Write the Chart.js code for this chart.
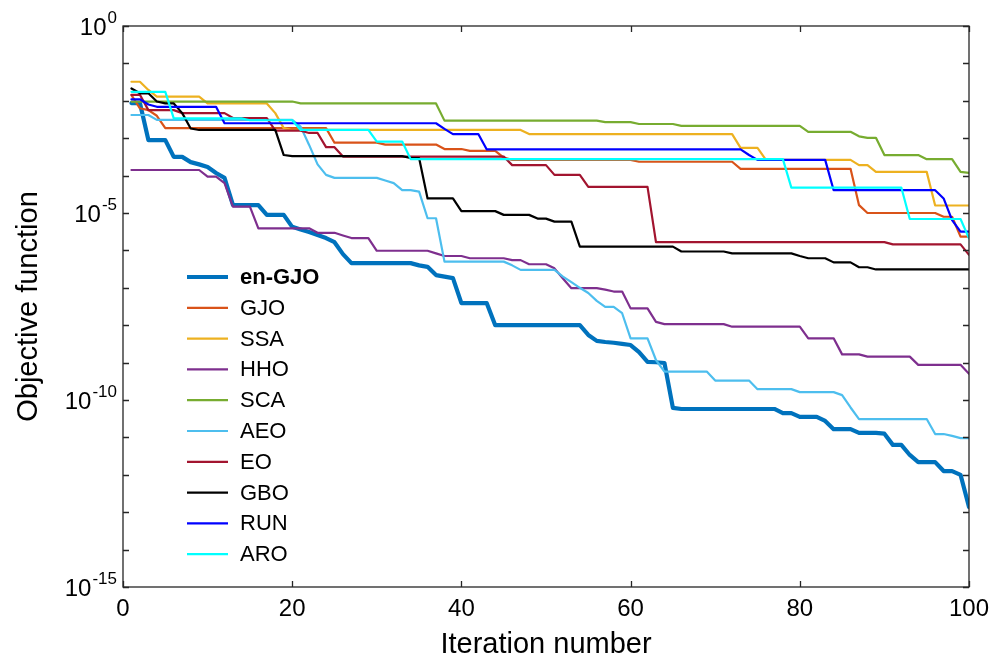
<!DOCTYPE html>
<html>
<head>
<meta charset="utf-8">
<script src="https://cdn.jsdelivr.net/npm/chart.js@4.4.1/dist/chart.umd.min.js"></script>
<style>
html,body{margin:0;padding:0;background:#fff;}
canvas{display:block;}
</style>
</head>
<body>
<canvas id="c" width="1005" height="664"></canvas>
<script>
// ---- DATA (stored as log10 of the objective value) ----
const iterations = [1,2,3,4,5,6,7,8,9,10,11,12,13,14,15,16,17,18,19,20,21,22,23,24,25,26,27,28,29,30,31,32,33,34,35,36,37,38,39,40,41,42,43,44,45,46,47,48,49,50,51,52,53,54,55,56,57,58,59,60,61,62,63,64,65,66,67,68,69,70,71,72,73,74,75,76,77,78,79,80,81,82,83,84,85,86,87,88,89,90,91,92,93,94,95,96,97,98,99,100];

const seriesNames = ['en-GJO','GJO','SSA','HHO','SCA','AEO','EO','GBO','RUN','ARO'];

const enGJO_log10 = [
-2.06,-2.06,-3.05,-3.05,-3.05,-3.50,-3.50,-3.64,-3.70,-3.77,
-3.93,-4.06,-4.79,-4.79,-4.79,-4.79,-5.05,-5.05,-5.05,-5.37,
-5.44,-5.51,-5.59,-5.67,-5.78,-6.10,-6.34,-6.34,-6.34,-6.34,
-6.34,-6.34,-6.34,-6.34,-6.40,-6.44,-6.66,-6.70,-6.74,-7.41,
-7.41,-7.41,-7.41,-8.00,-8.00,-8.00,-8.00,-8.00,-8.00,-8.00,
-8.00,-8.00,-8.00,-8.00,-8.26,-8.42,-8.45,-8.47,-8.50,-8.53,
-8.72,-8.98,-8.99,-9.01,-10.21,-10.24,-10.24,-10.24,-10.24,-10.24,
-10.24,-10.24,-10.24,-10.24,-10.24,-10.24,-10.24,-10.35,-10.35,-10.45,
-10.45,-10.45,-10.56,-10.78,-10.78,-10.78,-10.88,-10.88,-10.88,-10.90,
-11.20,-11.20,-11.47,-11.66,-11.66,-11.66,-11.90,-11.90,-12.00,-12.86];

const GJO_log10 = [
-1.85,-2.20,-2.25,-2.40,-2.73,-2.73,-2.73,-2.73,-2.73,-2.73,
-2.73,-2.73,-2.73,-2.73,-2.73,-2.73,-2.73,-2.73,-2.73,-2.73,
-2.73,-2.73,-2.73,-2.73,-3.12,-3.12,-3.12,-3.12,-3.12,-3.12,
-3.17,-3.17,-3.17,-3.17,-3.17,-3.17,-3.17,-3.29,-3.29,-3.29,
-3.34,-3.34,-3.34,-3.34,-3.52,-3.58,-3.58,-3.58,-3.58,-3.58,
-3.58,-3.58,-3.58,-3.58,-3.58,-3.58,-3.58,-3.58,-3.58,-3.58,
-3.63,-3.63,-3.63,-3.63,-3.63,-3.63,-3.63,-3.63,-3.63,-3.63,
-3.63,-3.63,-3.82,-3.82,-3.82,-3.82,-3.82,-3.82,-3.82,-3.82,
-3.82,-3.82,-3.82,-3.82,-3.82,-3.82,-4.79,-5.00,-5.00,-5.00,
-5.00,-5.00,-5.00,-5.00,-5.00,-5.00,-5.10,-5.10,-5.63,-5.63];

const SSA_log10 = [
-1.49,-1.49,-1.71,-1.89,-1.89,-1.89,-1.89,-1.89,-1.89,-2.07,
-2.07,-2.07,-2.07,-2.07,-2.07,-2.07,-2.07,-2.33,-2.73,-2.78,
-2.78,-2.78,-2.78,-2.78,-2.78,-2.78,-2.78,-2.78,-2.78,-2.78,
-2.78,-2.78,-2.78,-2.78,-2.78,-2.78,-2.78,-2.78,-2.78,-2.78,
-2.78,-2.78,-2.78,-2.78,-2.78,-2.78,-2.78,-2.89,-2.89,-2.89,
-2.89,-2.89,-2.89,-2.89,-2.89,-2.89,-2.89,-2.89,-2.89,-2.89,
-2.89,-2.89,-2.89,-2.89,-2.89,-2.89,-2.89,-2.89,-2.89,-2.89,
-2.89,-2.89,-3.26,-3.26,-3.26,-3.58,-3.58,-3.58,-3.58,-3.58,
-3.58,-3.58,-3.58,-3.58,-3.58,-3.58,-3.72,-3.72,-3.90,-3.90,
-3.90,-3.90,-3.90,-3.90,-3.90,-4.80,-4.80,-4.80,-4.80,-4.80];

const HHO_log10 = [
-3.85,-3.85,-3.85,-3.85,-3.85,-3.85,-3.85,-3.85,-3.85,-4.03,
-4.03,-4.20,-4.83,-4.83,-4.83,-5.41,-5.41,-5.41,-5.41,-5.41,
-5.41,-5.41,-5.53,-5.53,-5.53,-5.60,-5.67,-5.67,-5.67,-6.01,
-6.01,-6.01,-6.01,-6.01,-6.01,-6.01,-6.08,-6.15,-6.15,-6.15,
-6.21,-6.21,-6.21,-6.21,-6.21,-6.26,-6.26,-6.37,-6.37,-6.37,
-6.48,-6.75,-7.01,-7.01,-7.01,-7.01,-7.05,-7.10,-7.10,-7.55,
-7.55,-7.55,-7.91,-7.97,-7.97,-7.97,-7.97,-7.97,-7.97,-7.97,
-7.97,-8.04,-8.04,-8.04,-8.04,-8.04,-8.04,-8.04,-8.04,-8.04,
-8.35,-8.35,-8.35,-8.35,-8.78,-8.78,-8.78,-8.84,-8.84,-8.84,
-8.84,-8.84,-8.84,-9.06,-9.06,-9.06,-9.06,-9.06,-9.06,-9.30];

const SCA_log10 = [
-2.02,-2.02,-2.02,-2.02,-2.02,-2.02,-2.02,-2.02,-2.02,-2.02,
-2.02,-2.02,-2.02,-2.02,-2.02,-2.02,-2.02,-2.02,-2.02,-2.02,
-2.07,-2.07,-2.07,-2.07,-2.07,-2.07,-2.07,-2.07,-2.07,-2.07,
-2.07,-2.07,-2.07,-2.07,-2.07,-2.07,-2.07,-2.53,-2.53,-2.53,
-2.53,-2.53,-2.53,-2.53,-2.53,-2.53,-2.53,-2.53,-2.53,-2.53,
-2.53,-2.53,-2.53,-2.53,-2.53,-2.53,-2.57,-2.57,-2.57,-2.57,
-2.62,-2.62,-2.62,-2.62,-2.62,-2.67,-2.67,-2.67,-2.67,-2.67,
-2.67,-2.67,-2.67,-2.67,-2.67,-2.67,-2.67,-2.67,-2.67,-2.67,
-2.83,-2.83,-2.83,-2.83,-2.83,-2.83,-2.95,-2.99,-2.99,-3.45,
-3.45,-3.45,-3.45,-3.45,-3.56,-3.56,-3.56,-3.56,-3.90,-3.93];

const AEO_log10 = [
-2.38,-2.38,-2.38,-2.51,-2.51,-2.51,-2.51,-2.51,-2.51,-2.51,
-2.51,-2.51,-2.51,-2.51,-2.51,-2.51,-2.51,-2.51,-2.51,-2.51,
-2.69,-3.18,-3.70,-3.98,-4.06,-4.06,-4.06,-4.06,-4.06,-4.06,
-4.13,-4.20,-4.39,-4.39,-4.43,-5.14,-5.14,-6.30,-6.30,-6.30,
-6.30,-6.30,-6.30,-6.30,-6.30,-6.40,-6.52,-6.52,-6.52,-6.52,
-6.52,-6.70,-6.85,-7.00,-7.14,-7.35,-7.51,-7.51,-7.68,-8.35,
-8.35,-8.35,-8.93,-9.24,-9.24,-9.24,-9.24,-9.24,-9.24,-9.48,
-9.48,-9.48,-9.48,-9.48,-9.71,-9.71,-9.71,-9.71,-9.71,-9.79,
-9.79,-9.79,-9.79,-9.79,-9.87,-10.20,-10.51,-10.51,-10.51,-10.51,
-10.51,-10.51,-10.51,-10.51,-10.51,-10.91,-10.91,-10.96,-11.02,-11.02];

const EO_log10 = [
-1.84,-1.84,-2.25,-2.25,-2.25,-2.25,-2.33,-2.33,-2.33,-2.33,
-2.33,-2.33,-2.46,-2.46,-2.46,-2.46,-2.46,-2.80,-2.80,-2.80,
-2.80,-2.86,-2.86,-3.24,-3.24,-3.49,-3.49,-3.49,-3.49,-3.49,
-3.49,-3.49,-3.49,-3.49,-3.49,-3.49,-3.49,-3.49,-3.49,-3.49,
-3.49,-3.49,-3.49,-3.49,-3.49,-3.72,-3.72,-3.72,-3.72,-3.72,
-3.98,-3.98,-3.98,-3.98,-4.30,-4.30,-4.30,-4.30,-4.30,-4.30,
-4.30,-4.30,-5.78,-5.78,-5.78,-5.78,-5.78,-5.78,-5.78,-5.78,
-5.78,-5.78,-5.78,-5.78,-5.78,-5.78,-5.78,-5.78,-5.78,-5.78,
-5.78,-5.78,-5.78,-5.78,-5.78,-5.78,-5.78,-5.78,-5.78,-5.78,
-5.84,-5.84,-5.84,-5.84,-5.84,-5.84,-5.84,-5.84,-5.84,-6.12];

const GBO_log10 = [
-1.67,-1.80,-1.80,-2.02,-2.07,-2.07,-2.33,-2.74,-2.78,-2.78,
-2.78,-2.78,-2.78,-2.78,-2.78,-2.78,-2.78,-2.78,-3.45,-3.48,
-3.48,-3.48,-3.48,-3.48,-3.48,-3.48,-3.48,-3.48,-3.48,-3.48,
-3.48,-3.48,-3.48,-3.53,-3.53,-4.61,-4.61,-4.61,-4.61,-4.95,
-4.95,-4.95,-4.95,-4.95,-5.05,-5.05,-5.05,-5.05,-5.15,-5.15,
-5.23,-5.23,-5.23,-5.90,-5.90,-5.90,-5.90,-5.90,-5.90,-5.90,
-5.90,-5.90,-5.90,-5.90,-5.90,-6.03,-6.03,-6.03,-6.03,-6.03,
-6.03,-6.08,-6.08,-6.08,-6.08,-6.08,-6.08,-6.08,-6.08,-6.15,
-6.21,-6.21,-6.21,-6.32,-6.32,-6.32,-6.45,-6.45,-6.51,-6.51,
-6.51,-6.51,-6.51,-6.51,-6.51,-6.51,-6.51,-6.51,-6.51,-6.51];

const RUN_log10 = [
-1.96,-1.96,-2.10,-2.16,-2.16,-2.16,-2.16,-2.16,-2.16,-2.16,
-2.16,-2.60,-2.60,-2.60,-2.60,-2.60,-2.60,-2.60,-2.60,-2.60,
-2.60,-2.60,-2.60,-2.60,-2.60,-2.60,-2.60,-2.60,-2.60,-2.60,
-2.60,-2.60,-2.60,-2.60,-2.60,-2.60,-2.60,-2.75,-2.89,-2.89,
-2.89,-2.89,-3.30,-3.30,-3.30,-3.30,-3.30,-3.30,-3.30,-3.30,
-3.30,-3.30,-3.30,-3.30,-3.30,-3.30,-3.30,-3.30,-3.30,-3.30,
-3.30,-3.30,-3.30,-3.30,-3.30,-3.30,-3.30,-3.30,-3.30,-3.30,
-3.30,-3.30,-3.30,-3.45,-3.58,-3.58,-3.58,-3.58,-3.58,-3.58,
-3.58,-3.58,-3.58,-4.39,-4.39,-4.39,-4.39,-4.39,-4.39,-4.39,
-4.39,-4.39,-4.39,-4.39,-4.39,-4.39,-4.61,-5.19,-5.50,-5.50];

const ARO_log10 = [
-1.76,-1.76,-1.76,-1.76,-1.76,-2.47,-2.47,-2.47,-2.47,-2.47,
-2.47,-2.47,-2.47,-2.47,-2.52,-2.52,-2.52,-2.52,-2.52,-2.52,
-2.78,-2.78,-2.78,-2.78,-2.78,-2.78,-2.78,-2.78,-2.78,-3.09,
-3.09,-3.09,-3.09,-3.56,-3.56,-3.56,-3.56,-3.56,-3.56,-3.56,
-3.56,-3.56,-3.56,-3.56,-3.56,-3.56,-3.56,-3.56,-3.56,-3.56,
-3.56,-3.56,-3.56,-3.56,-3.56,-3.56,-3.56,-3.56,-3.56,-3.56,
-3.56,-3.56,-3.56,-3.56,-3.56,-3.56,-3.56,-3.56,-3.56,-3.56,
-3.56,-3.56,-3.56,-3.56,-3.56,-3.56,-3.56,-3.56,-4.32,-4.32,
-4.32,-4.32,-4.32,-4.32,-4.32,-4.32,-4.32,-4.32,-4.32,-4.32,
-4.32,-4.32,-5.16,-5.16,-5.16,-5.16,-5.16,-5.16,-5.16,-5.68];

const xTickValues = [0, 20, 40, 60, 80, 100];
const yTickExponents = [0,-1,-2,-3,-4,-5,-6,-7,-8,-9,-10,-11,-12,-13,-14,-15];
const yLabelExponents = [0, -5, -10, -15];
const yLabelBase = '10';
const yLabelSup = ['0', '-5', '-10', '-15'];

// ---- STYLE ----
const seriesLog = [enGJO_log10, GJO_log10, SSA_log10, HHO_log10, SCA_log10, AEO_log10, EO_log10, GBO_log10, RUN_log10, ARO_log10];
const seriesColors = ['#0072BD','#D95319','#EDB120','#7E2F8E','#77AC30','#4DBEEE','#A2142F','#000000','#0000FF','#00FFFF'];
const seriesWidths = [4.2,2.2,2.2,2.2,2.2,2.2,2.2,2.2,2.2,2.2];
const FONT = '"Liberation Sans", Arial, Helvetica, sans-serif';
const AXIS = '#262626';

const datasets = seriesNames.map((name, k) => ({
  label: name,
  data: iterations.map((it, i) => ({x: it, y: Math.pow(10, seriesLog[k][i])})),
  borderColor: seriesColors[k],
  backgroundColor: seriesColors[k],
  borderWidth: seriesWidths[k],
  pointRadius: 0,
  tension: 0,
  fill: false,
  borderJoinStyle: 'round',
  borderCapStyle: 'round',
  order: seriesNames.length - k
}));

const framePlugin = {
  id: 'frame',
  afterDatasetsDraw(chart) {
    const {ctx, chartArea: a, scales: {x, y}} = chart;
    ctx.save();
    ctx.strokeStyle = AXIS;
    ctx.lineWidth = 1.3;
    ctx.strokeRect(a.left, a.top, a.right - a.left, a.bottom - a.top);
    ctx.beginPath();
    yTickExponents.forEach(e => {
      const py = Math.round(y.getPixelForValue(Math.pow(10, e))) + 0.5;
      ctx.moveTo(a.left, py); ctx.lineTo(a.left + 6, py);
      ctx.moveTo(a.right, py); ctx.lineTo(a.right - 6, py);
    });
    xTickValues.forEach(v => {
      const px = Math.round(x.getPixelForValue(v)) + 0.5;
      ctx.moveTo(px, a.bottom); ctx.lineTo(px, a.bottom - 6);
      ctx.moveTo(px, a.top); ctx.lineTo(px, a.top + 6);
    });
    ctx.stroke();
    // y tick labels with real superscripts
    ctx.fillStyle = '#000';
    ctx.textBaseline = 'middle';
    ctx.textAlign = 'left';
    yLabelExponents.forEach((e, i) => {
      const py = y.getPixelForValue(Math.pow(10, e));
      ctx.font = '24px ' + FONT;
      const wb = ctx.measureText(yLabelBase).width;
      ctx.font = '17px ' + FONT;
      const ws = ctx.measureText(yLabelSup[i]).width;
      const x0 = a.left - 7 - wb - ws;
      ctx.font = '24px ' + FONT;
      ctx.fillText(yLabelBase, x0, py + 2);
      ctx.font = '17px ' + FONT;
      ctx.fillText(yLabelSup[i], x0 + wb + 1, py - 8);
    });
    ctx.restore();
  }
};

const legendPlugin = {
  id: 'innerLegend',
  afterDraw(chart) {
    const ctx = chart.ctx;
    ctx.save();
    ctx.textBaseline = 'middle';
    ctx.textAlign = 'left';
    chart.data.datasets.forEach((ds, i) => {
      const yy = 277 + i * 30.8;
      ctx.strokeStyle = ds.borderColor;
      ctx.lineWidth = ds.borderWidth;
      ctx.beginPath();
      ctx.moveTo(187, yy); ctx.lineTo(228, yy);
      ctx.stroke();
      ctx.fillStyle = '#000';
      ctx.font = (i === 0 ? 'bold ' : '') + '22px ' + FONT;
      ctx.fillText(ds.label, 240, yy + 1);
    });
    ctx.restore();
  }
};

new Chart(document.getElementById('c'), {
  type: 'line',
  data: {datasets},
  plugins: [framePlugin, legendPlugin],
  options: {
    responsive: false,
    animation: false,
    devicePixelRatio: 1,
    layout: {padding: {top: 26, right: 36, left: 0, bottom: 0}},
    plugins: {legend: {display: false}, tooltip: {enabled: false}},
    scales: {
      x: {
        type: 'linear', min: 0, max: 100,
        grid: {display: false, drawTicks: false},
        border: {display: false},
        afterBuildTicks: s => { s.ticks = xTickValues.map(v => ({value: v})); },
        afterFit: s => { s.height = 77; },
        ticks: {color: '#000', font: {family: FONT, size: 24}, padding: 8, maxRotation: 0},
        title: {display: true, text: 'Iteration number', color: '#000', font: {family: FONT, size: 29}, padding: {top: 0, bottom: 2}}
      },
      y: {
        type: 'logarithmic', min: 1e-15, max: 1,
        grid: {display: false, drawTicks: false},
        border: {display: false},
        afterBuildTicks: s => { s.ticks = yTickExponents.map(e => ({value: Math.pow(10, e)})); },
        afterFit: s => { s.width = 123; },
        ticks: {display: false},
        title: {display: true, text: 'Objective function', color: '#000', font: {family: FONT, size: 29}, padding: {top: 12, bottom: 0}}
      }
    }
  }
});
</script>
</body>
</html>
